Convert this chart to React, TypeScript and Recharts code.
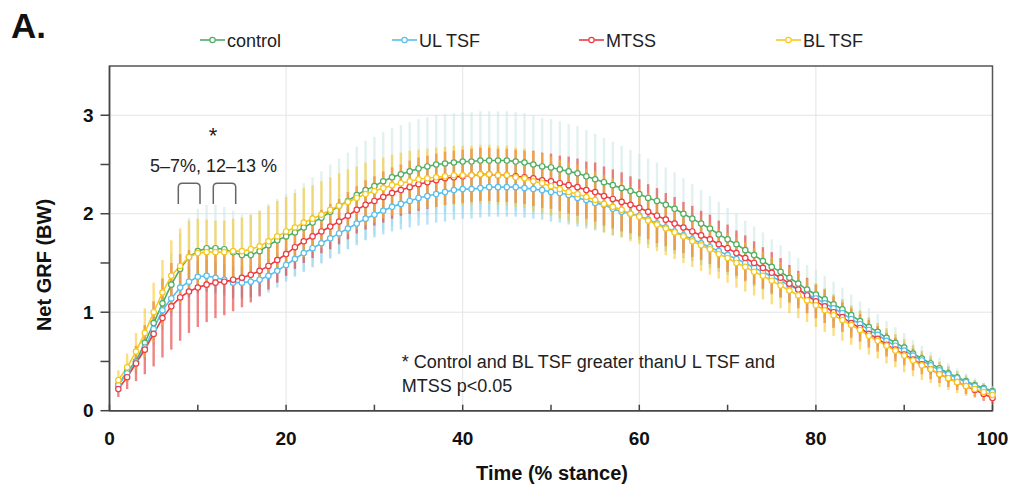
import {
  CartesianGrid,
  ErrorBar,
  Line,
  LineChart,
  ReferenceArea,
  XAxis,
  YAxis,
} from "recharts";

const FONT = "'Liberation Sans', Arial, sans-serif";

// stance 1..100 %
const stance = Array.from({ length: 100 }, (_, i) => i + 1);

const control = [
  0.26, 0.40, 0.50, 0.69, 0.89, 1.09, 1.28, 1.44, 1.56, 1.62,
  1.65, 1.65, 1.64, 1.61, 1.58, 1.58, 1.62, 1.68, 1.73, 1.77,
  1.81, 1.86, 1.91, 1.96, 2.02, 2.08, 2.13, 2.19, 2.24, 2.28,
  2.33, 2.37, 2.40, 2.43, 2.46, 2.48, 2.50, 2.51, 2.52, 2.53,
  2.53, 2.54, 2.54, 2.54, 2.54, 2.53, 2.52, 2.50, 2.48, 2.47,
  2.45, 2.43, 2.41, 2.38, 2.35, 2.32, 2.29, 2.26, 2.23, 2.20,
  2.16, 2.13, 2.09, 2.05, 2.00, 1.95, 1.90, 1.85, 1.79, 1.74,
  1.69, 1.63, 1.58, 1.52, 1.46, 1.41, 1.35, 1.29, 1.23, 1.18,
  1.13, 1.08, 1.03, 0.97, 0.91, 0.85, 0.80, 0.74, 0.69, 0.64,
  0.58, 0.53, 0.48, 0.43, 0.38, 0.34, 0.30, 0.26, 0.23, 0.20,
];

const ulTsf = [
  0.26, 0.38, 0.49, 0.64, 0.83, 1.02, 1.14, 1.25, 1.31, 1.36,
  1.37, 1.35, 1.33, 1.30, 1.30, 1.31, 1.33, 1.37, 1.42, 1.48,
  1.54, 1.60, 1.65, 1.70, 1.75, 1.80, 1.85, 1.90, 1.95, 1.99,
  2.03, 2.07, 2.10, 2.13, 2.16, 2.18, 2.20, 2.22, 2.24, 2.25,
  2.25, 2.26, 2.27, 2.27, 2.27, 2.27, 2.26, 2.25, 2.24, 2.22,
  2.21, 2.19, 2.16, 2.14, 2.11, 2.09, 2.05, 2.02, 2.00, 1.98,
  1.94, 1.90, 1.86, 1.82, 1.78, 1.74, 1.70, 1.66, 1.62, 1.58,
  1.54, 1.50, 1.45, 1.41, 1.36, 1.32, 1.27, 1.23, 1.18, 1.14,
  1.09, 1.04, 0.99, 0.93, 0.88, 0.82, 0.77, 0.71, 0.66, 0.61,
  0.56, 0.51, 0.46, 0.41, 0.37, 0.33, 0.29, 0.25, 0.22, 0.19,
];

const mtss = [
  0.22, 0.34, 0.48, 0.62, 0.78, 0.94, 1.06, 1.15, 1.21, 1.25,
  1.28, 1.30, 1.31, 1.33, 1.35, 1.38, 1.42, 1.47, 1.53, 1.59,
  1.66, 1.72, 1.77, 1.82, 1.87, 1.92, 1.98, 2.04, 2.09, 2.13,
  2.17, 2.21, 2.24, 2.27, 2.30, 2.32, 2.34, 2.36, 2.37, 2.38,
  2.39, 2.40, 2.40, 2.39, 2.39, 2.38, 2.37, 2.36, 2.34, 2.33,
  2.31, 2.29, 2.27, 2.24, 2.22, 2.18, 2.15, 2.12, 2.09, 2.06,
  2.02, 1.98, 1.94, 1.90, 1.86, 1.82, 1.78, 1.74, 1.69, 1.65,
  1.60, 1.55, 1.50, 1.45, 1.40, 1.35, 1.29, 1.23, 1.17, 1.11,
  1.06, 1.00, 0.95, 0.89, 0.84, 0.78, 0.73, 0.67, 0.62, 0.57,
  0.52, 0.47, 0.42, 0.37, 0.33, 0.29, 0.25, 0.21, 0.17, 0.13,
];

const blTsf = [
  0.31, 0.44, 0.60, 0.79, 1.00, 1.20, 1.37, 1.47, 1.56, 1.60,
  1.61, 1.61, 1.61, 1.62, 1.62, 1.64, 1.67, 1.72, 1.77, 1.82,
  1.86, 1.91, 1.95, 1.99, 2.04, 2.08, 2.12, 2.16, 2.20, 2.23,
  2.26, 2.29, 2.31, 2.33, 2.35, 2.36, 2.37, 2.38, 2.39, 2.39,
  2.39, 2.40, 2.40, 2.39, 2.39, 2.37, 2.36, 2.33, 2.31, 2.28,
  2.25, 2.22, 2.20, 2.17, 2.14, 2.10, 2.07, 2.04, 2.00, 1.97,
  1.93, 1.89, 1.85, 1.81, 1.77, 1.72, 1.68, 1.64, 1.59, 1.55,
  1.50, 1.46, 1.41, 1.37, 1.32, 1.27, 1.22, 1.17, 1.12, 1.07,
  1.02, 0.97, 0.92, 0.87, 0.82, 0.76, 0.71, 0.66, 0.61, 0.56,
  0.51, 0.46, 0.42, 0.37, 0.33, 0.29, 0.25, 0.22, 0.19, 0.16,
];

// standard deviations
const controlSd = [
  0.05, 0.08, 0.12, 0.17, 0.22, 0.27, 0.32, 0.36, 0.40, 0.43,
  0.44, 0.44, 0.43, 0.42, 0.41, 0.41, 0.41, 0.42, 0.42, 0.43,
  0.44, 0.45, 0.46, 0.47, 0.48, 0.48, 0.49, 0.49, 0.50, 0.50,
  0.50, 0.50, 0.50, 0.50, 0.50, 0.50, 0.50, 0.50, 0.50, 0.50,
  0.50, 0.50, 0.50, 0.50, 0.50, 0.50, 0.50, 0.50, 0.49, 0.49,
  0.49, 0.48, 0.48, 0.47, 0.46, 0.45, 0.44, 0.43, 0.42, 0.41,
  0.40, 0.39, 0.38, 0.37, 0.36, 0.35, 0.34, 0.33, 0.33, 0.32,
  0.31, 0.30, 0.29, 0.29, 0.28, 0.27, 0.27, 0.26, 0.25, 0.25,
  0.24, 0.23, 0.22, 0.21, 0.20, 0.19, 0.18, 0.17, 0.16, 0.15,
  0.14, 0.13, 0.12, 0.11, 0.10, 0.09, 0.08, 0.07, 0.06, 0.05,
];

const ulTsfSd = [
  0.04, 0.06, 0.08, 0.10, 0.12, 0.13, 0.14, 0.15, 0.16, 0.16,
  0.16, 0.16, 0.16, 0.16, 0.16, 0.16, 0.16, 0.17, 0.17, 0.17,
  0.18, 0.19, 0.19, 0.20, 0.20, 0.21, 0.21, 0.22, 0.22, 0.23,
  0.24, 0.25, 0.26, 0.27, 0.28, 0.29, 0.29, 0.30, 0.30, 0.30,
  0.30, 0.30, 0.30, 0.30, 0.30, 0.30, 0.30, 0.30, 0.30, 0.30,
  0.30, 0.30, 0.29, 0.29, 0.28, 0.28, 0.27, 0.26, 0.26, 0.25,
  0.25, 0.24, 0.24, 0.23, 0.23, 0.22, 0.22, 0.21, 0.21, 0.20,
  0.20, 0.19, 0.19, 0.18, 0.18, 0.17, 0.17, 0.16, 0.16, 0.15,
  0.15, 0.14, 0.14, 0.13, 0.13, 0.12, 0.12, 0.11, 0.11, 0.10,
  0.10, 0.09, 0.09, 0.08, 0.08, 0.07, 0.07, 0.06, 0.06, 0.05,
];

const mtssSd = [
  0.08, 0.12, 0.18, 0.25, 0.33, 0.40, 0.44, 0.44, 0.42, 0.40,
  0.38, 0.36, 0.34, 0.32, 0.30, 0.28, 0.26, 0.24, 0.23, 0.22,
  0.22, 0.22, 0.22, 0.22, 0.23, 0.23, 0.24, 0.24, 0.25, 0.25,
  0.26, 0.26, 0.26, 0.27, 0.27, 0.27, 0.27, 0.27, 0.27, 0.27,
  0.27, 0.27, 0.27, 0.27, 0.27, 0.27, 0.27, 0.28, 0.28, 0.28,
  0.28, 0.29, 0.29, 0.29, 0.30, 0.30, 0.30, 0.30, 0.29, 0.29,
  0.28, 0.28, 0.27, 0.27, 0.26, 0.26, 0.25, 0.25, 0.24, 0.24,
  0.23, 0.23, 0.22, 0.21, 0.21, 0.20, 0.19, 0.19, 0.18, 0.17,
  0.17, 0.16, 0.15, 0.15, 0.14, 0.14, 0.13, 0.12, 0.12, 0.11,
  0.11, 0.10, 0.10, 0.09, 0.09, 0.08, 0.08, 0.07, 0.07, 0.06,
];

const blTsfSd = [
  0.10, 0.14, 0.19, 0.25, 0.30, 0.33, 0.36, 0.38, 0.37, 0.35,
  0.33, 0.32, 0.32, 0.33, 0.34, 0.35, 0.36, 0.36, 0.36, 0.35,
  0.35, 0.35, 0.34, 0.34, 0.33, 0.33, 0.33, 0.32, 0.32, 0.32,
  0.31, 0.31, 0.31, 0.31, 0.30, 0.30, 0.30, 0.30, 0.30, 0.30,
  0.30, 0.30, 0.30, 0.30, 0.30, 0.30, 0.30, 0.30, 0.30, 0.30,
  0.30, 0.30, 0.30, 0.29, 0.29, 0.29, 0.29, 0.28, 0.28, 0.28,
  0.28, 0.27, 0.27, 0.27, 0.27, 0.26, 0.26, 0.26, 0.25, 0.25,
  0.25, 0.25, 0.24, 0.24, 0.24, 0.23, 0.23, 0.23, 0.22, 0.22,
  0.22, 0.21, 0.21, 0.20, 0.20, 0.19, 0.18, 0.18, 0.17, 0.17,
  0.16, 0.15, 0.14, 0.13, 0.12, 0.11, 0.10, 0.09, 0.08, 0.07,
];

const xTicks = [0, 10, 20, 30, 40, 50, 60, 70, 80, 90, 100];
const yTicks = [0, 0.5, 1, 1.5, 2, 2.5, 3];

const series = [
  { key: "control", sdKey: "controlSd", name: "control", color: "#4fae62", sdColor: "rgba(200,230,228,0.55)" },
  { key: "ulTsf", sdKey: "ulTsfSd", name: "UL TSF", color: "#56bfee", sdColor: "rgba(135,208,242,0.6)" },
  { key: "mtss", sdKey: "mtssSd", name: "MTSS", color: "#ee3a42", sdColor: "rgba(230,55,55,0.62)" },
  { key: "blTsf", sdKey: "blTsfSd", name: "BL TSF", color: "#f7c81e", sdColor: "rgba(250,195,25,0.55)" },
];

const rows = stance.map((t, i) => ({
  t,
  control: control[i],
  ulTsf: ulTsf[i],
  mtss: mtss[i],
  blTsf: blTsf[i],
  controlSd: controlSd[i],
  ulTsfSd: ulTsfSd[i],
  mtssSd: mtssSd[i],
  blTsfSd: blTsfSd[i],
}));

const W = 1014;
const H = 486;

function XTick(props: any) {
  const { x, y, payload } = props;
  const v = payload.value;
  return (
    <g>
      <line x1={x} x2={x} y1={y} y2={y - 6} stroke="#444" strokeWidth={1.5} />
      {v % 20 === 0 && (
        <text x={x} y={y + 34} textAnchor="middle" fontSize={19} fontWeight={700} fill="#111" fontFamily={FONT}>
          {v}
        </text>
      )}
    </g>
  );
}

const legendPos = [200, 392, 579, 776];

export default function App() {
  return (
    <div style={{ position: "absolute", left: 0, top: 0, width: W, height: H, overflow: "hidden", fontFamily: FONT }}>
      <LineChart
        width={W}
        height={H}
        data={rows}
        margin={{ top: 66, right: 21.5, bottom: 45.3, left: 49.5 }}
      >
        <CartesianGrid stroke="#e4e4e4" horizontalValues={[1, 2, 3]} verticalValues={[20, 40, 60, 80]} />
        <XAxis
          dataKey="t"
          type="number"
          domain={[0, 100]}
          ticks={xTicks}
          interval={0}
          height={30}
          tickSize={0}
          tickMargin={0}
          tickLine={false}
          axisLine={{ stroke: "#444", strokeWidth: 1.5 }}
          tick={<XTick />}
        />
        <YAxis
          type="number"
          domain={[0, 3.5]}
          ticks={yTicks}
          interval={0}
          width={60}
          tickSize={9}
          tickMargin={7}
          axisLine={{ stroke: "#444", strokeWidth: 1.5 }}
          tickLine={{ stroke: "#444", strokeWidth: 1.5 }}
          tick={{ fontSize: 19, fontWeight: 700, fill: "#111", fontFamily: FONT }}
          tickFormatter={(v: number) => (Number.isInteger(v) ? String(v) : "")}
        />
        <ReferenceArea x1={0} x2={100} y1={0} y2={3.5} fill="none" fillOpacity={0} stroke="#555" strokeWidth={1.5} />
        {series.map((s) => (
          <Line
            key={s.key + "-sd"}
            dataKey={s.key}
            stroke="none"
            dot={false}
            activeDot={false}
            legendType="none"
            isAnimationActive={false}
          >
            <ErrorBar
              dataKey={s.sdKey}
              direction="y"
              width={0}
              stroke={s.sdColor}
              strokeWidth={2.4}
              isAnimationActive={false}
            />
          </Line>
        ))}
        {series.map((s) => (
          <Line
            key={s.key}
            dataKey={s.key}
            name={s.name}
            type="linear"
            stroke={s.color}
            strokeWidth={1.6}
            dot={{ r: 2.7, fill: "#fff", stroke: s.color, strokeWidth: 1.2 }}
            activeDot={false}
            isAnimationActive={false}
          />
        ))}
      </LineChart>

      <svg
        width={W}
        height={H}
        style={{ position: "absolute", left: 0, top: 0, pointerEvents: "none" }}
        fontFamily={FONT}
      >
        <text x={11} y={38} fontSize={35} fontWeight={700} fill="#111">A.</text>
        {series.map((s, i) => (
          <g key={s.key}>
            <line x1={legendPos[i]} x2={legendPos[i] + 25} y1={40} y2={40} stroke={s.color} strokeWidth={1.6} />
            <circle cx={legendPos[i] + 12.5} cy={40} r={2.7} fill="#fff" stroke={s.color} strokeWidth={1.2} />
            <text x={legendPos[i] + 27} y={46.5} fontSize={18} fill="#222">{s.name}</text>
          </g>
        ))}
        <text
          x={44}
          y={265}
          transform="rotate(-90 44 265)"
          textAnchor="middle"
          dominantBaseline="central"
          fontSize={20}
          fontWeight={700}
          fill="#111"
        >
          Net GRF (BW)
        </text>
        <text x={552} y={480} textAnchor="middle" fontSize={20} fontWeight={700} fill="#111">
          Time (% stance)
        </text>
        <text x={213} y={143} textAnchor="middle" fontSize={22} fill="#222">*</text>
        <text x={150} y={171.7} fontSize={18} fill="#222">5–7%, 12–13 %</text>
        <path d="M178.3 204 V187.3 Q178.3 183.3 182.3 183.3 H196 Q200 183.3 200 187.3 V204" fill="none" stroke="#666" strokeWidth={1.5} />
        <path d="M213.3 204 V187.3 Q213.3 183.3 217.3 183.3 H231.7 Q235.7 183.3 235.7 187.3 V204" fill="none" stroke="#666" strokeWidth={1.5} />
        <text x={401.7} y={368.3} fontSize={18} fill="#222">* Control and BL TSF greater thanU L TSF and</text>
        <text x={401.7} y={391.7} fontSize={18} fill="#222">MTSS p&lt;0.05</text>
      </svg>
    </div>
  );
}
